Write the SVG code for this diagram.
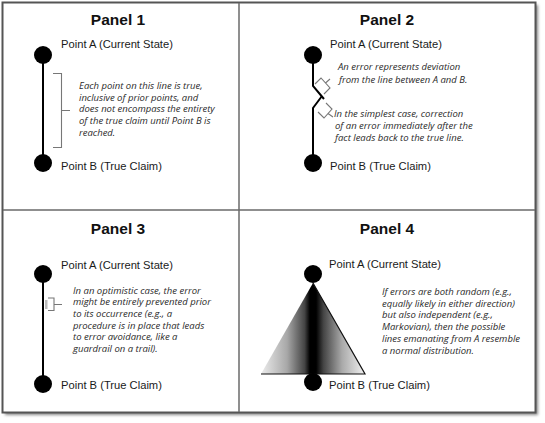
<svg xmlns="http://www.w3.org/2000/svg" width="545" height="423" viewBox="0 0 545 423">
<style>
.title{font-family:"Liberation Sans",Arial,sans-serif;font-weight:bold;font-size:15.5px;fill:#111;text-anchor:middle}
.lbl{font-family:"Liberation Sans",Arial,sans-serif;font-size:11.2px;fill:#1a1a1a}
.note{font-family:"Open Sans","Liberation Sans",sans-serif;font-style:italic;font-size:9.5px;fill:#2a2a2a}
.pt{fill:#000}
.ln{stroke:#000;stroke-width:2;fill:none}
.br{stroke:#777;stroke-width:1.1;fill:none}
.div{stroke:#6a6a6a;stroke-width:1.5}
</style>
<defs>
<linearGradient id="g" x1="0" y1="0" x2="1" y2="0">
<stop offset="0" stop-color="#ececec"/>
<stop offset="0.25" stop-color="#a8a8a8"/>
<stop offset="0.42" stop-color="#444"/>
<stop offset="0.47" stop-color="#000"/>
<stop offset="0.53" stop-color="#000"/>
<stop offset="0.6" stop-color="#444"/>
<stop offset="0.78" stop-color="#aaa"/>
<stop offset="1" stop-color="#f2f2f2"/>
</linearGradient>
<filter id="sh" x="-5%" y="-5%" width="110%" height="110%">
<feGaussianBlur stdDeviation="1.5"/>
</filter>
</defs>
<rect x="0" y="0" width="545" height="423" fill="#fff"/>
<rect x="5" y="5" width="533" height="410" fill="#888" filter="url(#sh)"/>
<rect x="2.5" y="2.5" width="533" height="410" fill="#fff" stroke="#555" stroke-width="2"/>
<g id="dividers">
<line class="div" x1="239" y1="3" x2="239" y2="412"/>
<line class="div" x1="3" y1="210" x2="535" y2="210"/>
</g>
<g id="panel1">
<text class="title" x="118" y="25">Panel 1</text>
<line class="ln" x1="43" y1="55" x2="43" y2="163"/>
<circle class="pt" cx="43" cy="55" r="9"/>
<circle class="pt" cx="43" cy="163" r="9"/>
<text class="lbl" x="61" y="48">Point A (Current State)</text>
<text class="lbl" x="61" y="170">Point B (True Claim)</text>
<path class="br" d="M53,73.5 H61.5 V147.5 H53 M61.5,110.5 H70"/>
<text class="note" x="79" y="89">Each point on this line is true,</text>
<text class="note" x="79" y="100.7">inclusive of prior points, and</text>
<text class="note" x="79" y="112.4">does not encompass the entirety</text>
<text class="note" x="79" y="124.1">of the true claim until Point B is</text>
<text class="note" x="79" y="135.8">reached.</text>
</g>
<g id="panel2">
<text class="title" x="387" y="25">Panel 2</text>
<path class="ln" d="M313,55 V86 L324,99"/>
<path class="ln" d="M322,96 L313,108 V163"/>
<circle class="pt" cx="313" cy="55" r="9"/>
<circle class="pt" cx="313" cy="163" r="9"/>
<text class="lbl" x="330" y="48">Point A (Current State)</text>
<text class="lbl" x="330" y="170">Point B (True Claim)</text>
<path class="br" d="M315,84 L321,78 L330,88 L324,94 M325.5,83 L330,79"/>
<path class="br" d="M318,112 L324,118 L332,109 L326,103 M328,113.5 L333,117"/>
<text class="note" x="338" y="70">An error represents deviation</text>
<text class="note" x="339" y="83">from the line between A and B.</text>
<text class="note" x="334" y="117">In the simplest case, correction</text>
<text class="note" x="335" y="129">of an error immediately after the</text>
<text class="note" x="335" y="141">fact leads back to the true line.</text>
</g>
<g id="panel3">
<text class="title" x="118" y="234">Panel 3</text>
<line class="ln" x1="43" y1="274" x2="43" y2="384"/>
<rect x="45" y="300" width="2.5" height="9" fill="#bbb"/>
<circle class="pt" cx="43" cy="274" r="9"/>
<circle class="pt" cx="43" cy="384" r="9"/>
<text class="lbl" x="61" y="268.5">Point A (Current State)</text>
<text class="lbl" x="61" y="389">Point B (True Claim)</text>
<path class="br" d="M48,298 H54 V310.5 H48 M54,304.5 H62"/>
<text class="note" x="73" y="293.7">In an optimistic case, the error</text>
<text class="note" x="73" y="305.3">might be entirely prevented prior</text>
<text class="note" x="73" y="317">to its occurrence (e.g., a</text>
<text class="note" x="73" y="328.7">procedure is in place that leads</text>
<text class="note" x="73" y="340.3">to error avoidance, like a</text>
<text class="note" x="73" y="352">guardrail on a trail).</text>
</g>
<g id="panel4">
<text class="title" x="387" y="234">Panel 4</text>
<path d="M313,283 L365,374 L261,374 Z" fill="url(#g)"/>
<path d="M313,283 L365,374 H261" stroke="#111" stroke-width="1.2" fill="none"/>
<circle class="pt" cx="313" cy="274" r="9"/>
<circle class="pt" cx="313" cy="382" r="9"/>
<text class="lbl" x="329" y="267.5">Point A (Current State)</text>
<text class="lbl" x="329" y="389">Point B (True Claim)</text>
<text class="note" x="382" y="295">If errors are both random (e.g.,</text>
<text class="note" x="382" y="306.7">equally likely in either direction)</text>
<text class="note" x="382" y="318.4">but also independent (e.g.,</text>
<text class="note" x="382" y="330.1">Markovian), then the possible</text>
<text class="note" x="382" y="341.8">lines emanating from A resemble</text>
<text class="note" x="382" y="353.5">a normal distribution.</text>
</g>
</svg>
